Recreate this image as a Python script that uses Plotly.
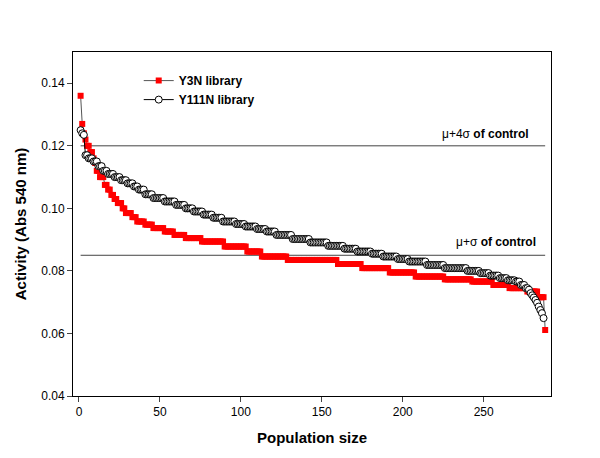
import plotly.graph_objects as go

# Y3N library: sorted activity levels (value, run length)
y3n_levels = [0.136, 0.127, 0.124, 0.122, 0.120, 0.118, 0.116, 0.1145, 0.112, 0.110,
              0.1075, 0.106, 0.1043, 0.103, 0.1017, 0.100, 0.0985, 0.0972, 0.0958, 0.0948,
              0.0937, 0.0926, 0.0915, 0.0905, 0.0894, 0.0878, 0.0862, 0.0846, 0.0835, 0.0822,
              0.0809, 0.0795, 0.0782, 0.0773, 0.0766, 0.0755, 0.0745, 0.0734, 0.0716, 0.0611]
y3n_counts = [1, 1, 1, 1, 2, 2, 1, 1, 2, 3,
              2, 2, 2, 2, 3, 2, 4, 3, 5, 5,
              7, 6, 7, 10, 14, 14, 9, 16, 31, 15,
              17, 16, 18, 17, 13, 10, 11, 7, 4, 1]

# Y111N library: sorted activity levels (value, run length)
y111n_levels = [0.125, 0.124, 0.1235, 0.117, 0.116, 0.115, 0.1135, 0.112, 0.111, 0.110,
                0.109, 0.108, 0.107, 0.106, 0.1045, 0.1033, 0.1022, 0.1011, 0.100, 0.099,
                0.098, 0.097, 0.0958, 0.095, 0.0942, 0.0934, 0.0926, 0.0915, 0.0902, 0.0891,
                0.088, 0.0871, 0.0862, 0.0855, 0.0846, 0.0838, 0.083, 0.0819, 0.0809, 0.080,
                0.0793, 0.0785, 0.0777, 0.077, 0.0766, 0.0755, 0.0745, 0.074, 0.0729, 0.0722,
                0.0715, 0.0707, 0.0698, 0.0686, 0.0675, 0.0665, 0.0649]
y111n_counts = [1, 1, 1, 2, 3, 3, 3, 3, 4, 4,
                4, 4, 3, 4, 5, 7, 7, 6, 5, 6,
                6, 6, 8, 6, 7, 6, 6, 10, 11, 11,
                10, 8, 9, 7, 9, 7, 11, 11, 14, 8,
                6, 6, 5, 5, 3, 3, 2, 1, 1, 1,
                1, 1, 1, 1, 1, 1, 1]

# control thresholds
control_levels = [0.12, 0.085]
control_labels = ["\u03bc+4\u03c3 <b>of control</b>", "\u03bc+\u03c3 <b>of control</b>"]
control_label_x = [279, 283.5]
control_label_y = [0.1238, 0.0893]

x_ticks = [0, 50, 100, 150, 200, 250]
y_ticks = [0.04, 0.06, 0.08, 0.10, 0.12, 0.14]


def expand(levels, counts):
    out = []
    for v, c in zip(levels, counts):
        out.extend([v] * c)
    return out


y3n = expand(y3n_levels, y3n_counts)
y111n = expand(y111n_levels, y111n_counts)
n = max(len(y3n), len(y111n))

FONT = "Arial, Liberation Sans, sans-serif"
fig = go.Figure()

for lvl in control_levels:
    fig.add_trace(go.Scatter(x=[1, n], y=[lvl, lvl], mode="lines",
                             line=dict(color="#444444", width=1), showlegend=False,
                             hoverinfo="skip"))

fig.add_trace(go.Scatter(x=list(range(1, len(y3n) + 1)), y=y3n, mode="lines+markers",
                         name="<b>Y3N library</b>",
                         line=dict(color="#555555", width=1),
                         marker=dict(symbol="square", size=6, color="#ff0000",
                                     line=dict(width=0))))
fig.add_trace(go.Scatter(x=list(range(1, len(y111n) + 1)), y=y111n, mode="lines+markers",
                         name="<b>Y111N library</b>",
                         line=dict(color="#000000", width=1),
                         marker=dict(symbol="circle", size=7, color="#ffffff",
                                     line=dict(color="#000000", width=1))))

for t, xx, yy in zip(control_labels, control_label_x, control_label_y):
    fig.add_annotation(x=xx, y=yy, text=t, showarrow=False, xanchor="right",
                       yanchor="middle", font=dict(family=FONT, size=12, color="black"))

fig.update_layout(
    width=600, height=458,
    margin=dict(l=65, r=57, t=44, b=70),
    paper_bgcolor="white", plot_bgcolor="white",
    font=dict(family=FONT, size=12, color="black"),
    legend=dict(x=0.1375, y=0.959, xanchor="left", yanchor="top",
                bgcolor="rgba(0,0,0,0)", font=dict(family=FONT, size=12),
                tracegroupgap=0),
)
fig.update_xaxes(range=[-3.7, 291.6], tickvals=x_ticks, ticks="outside", ticklen=5,
                 showgrid=False, zeroline=False, showline=True, linecolor="black",
                 linewidth=1, mirror=True, tickfont=dict(size=12),
                 title=dict(text="<b>Population size</b>", font=dict(size=15), standoff=14))
fig.update_yaxes(range=[0.04, 0.15], tickvals=y_ticks, tickformat=".2f", ticks="outside",
                 ticklen=5, showgrid=False, zeroline=False, showline=True,
                 linecolor="black", linewidth=1, mirror=True, tickfont=dict(size=12),
                 title=dict(text="<b>Activity (Abs 540 nm)</b>", font=dict(size=15),
                            standoff=10))

fig.write_html("out.html")
